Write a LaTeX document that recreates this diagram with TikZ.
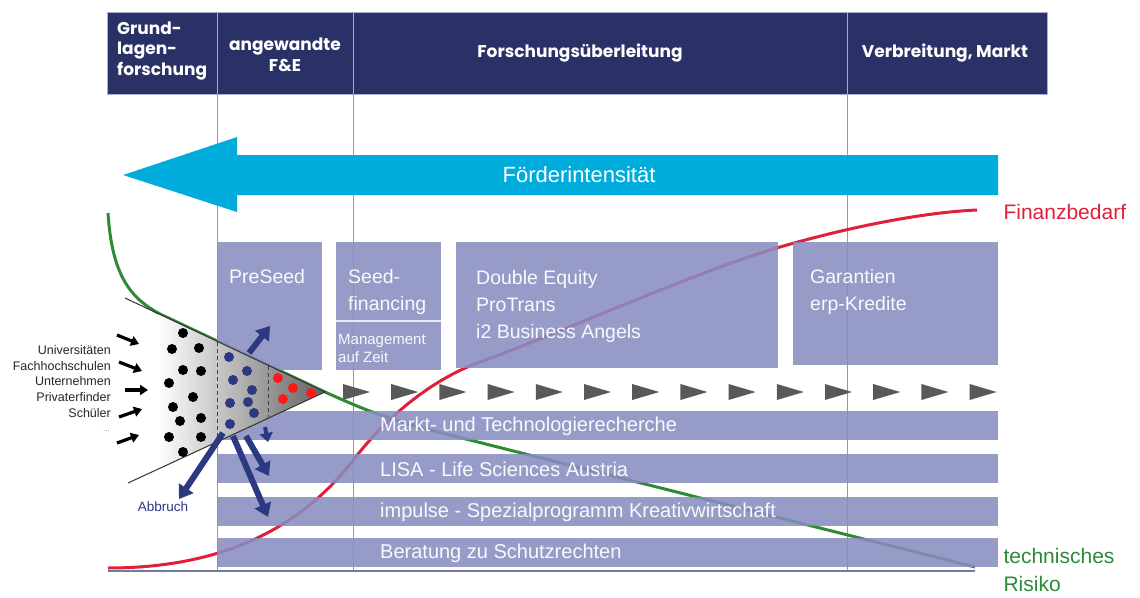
\documentclass[tikz,border=0pt]{standalone}
\usepackage{fontspec}
\setmainfont{Liberation Sans}
\newfontfamily\headfont{Poppins}
\usetikzlibrary{arrows.meta}

\definecolor{headnavy}{RGB}{42,49,102}
\definecolor{lav}{RGB}{136,141,192}
\definecolor{foerder}{RGB}{0,172,219}
\definecolor{finred}{RGB}{222,32,58}
\definecolor{riskgreen}{RGB}{46,138,52}
\definecolor{dropnavy}{RGB}{44,56,128}
\definecolor{colline}{RGB}{150,152,165}

\tikzset{
  headtxt/.style={text=white,inner sep=0pt,font=\headfont\bfseries\fontsize{17}{20.5}\selectfont},
  prog/.style={fill=lav,fill opacity=0.88},
  progtxt/.style={text=white!95!lav,anchor=west,align=left,inner sep=0pt,font=\fontsize{19.5}{27}\selectfont},
  srctxt/.style={anchor=east,inner sep=0pt,text=black!85,font=\fontsize{12.5}{14}\selectfont},
  feed/.style={line width=3.2pt,-{Triangle[width=10pt,length=8pt]}},
  dropout/.style={draw=dropnavy,line width=6pt,-{Triangle[width=17pt,length=13pt]}},
  chev/.style={fill=black!65},
}

\begin{document}
\begin{tikzpicture}[x=1pt,y=1pt,yscale=-1]
\useasboundingbox (0,0) rectangle (1140,597);

% phases
\fill[headnavy] (107,12) rectangle (1047,94);
\draw[lav!70,line width=0.8pt] (107,12) rectangle (1047,94);
\foreach \cx in {217,353,847}
  \draw[lav!75!white,line width=1pt] (\cx,12) -- (\cx,94);
\node[headtxt,anchor=west,align=left] (grund) at (117,51) {Grund-\\lagen-\\forschung};
\node[headtxt,align=center] (angew) at (285,55) {angewandte\\F\&E};
\node[headtxt] (ueber) at (580,53) {Forschungsüberleitung};
\node[headtxt] (markt) at (945,53) {Verbreitung, Markt};

\foreach \cx in {217,353,847}
  \draw[colline,line width=0.8pt] (\cx,94) -- (\cx,572);
\draw[lav!85!black,line width=1.5pt] (108,571) -- (975,571);

% Foerderintensitaet
\fill[foerder] (998,155) -- (237,155) -- (237,137) -- (123,175) -- (237,212) -- (237,195) -- (998,195) -- cycle;
\node[text=white,font=\fontsize{22}{26}\selectfont] (foerd) at (579,175) {Förderintensität};

% curves
\draw[finred,line width=3pt] (108,568) .. controls (220,568) and (300,530) .. (355,458)
  .. controls (385,419) and (430,380) .. (480,362)
  .. controls (560,333) and (700,270) .. (780,247)
  .. controls (860,224) and (930,212) .. (977,210);
\draw[riskgreen,line width=3pt] (108,213) .. controls (112,275) and (130,298) .. (160,314)
  -- (325,392) .. controls (360,408) and (390,420) .. (430,430) -- (975,567);
\node[anchor=west,text=finred,font=\fontsize{21}{25}\selectfont] (finanz) at (1000,212) {Finanzbedarf};
\node[anchor=west,align=left,text=riskgreen,font=\fontsize{21}{28}\selectfont] (risiko) at (1000,570) {technisches\\Risiko};

% programmes
\fill[prog] (217,242) rectangle (322,370);
\fill[prog] (336,242) rectangle (441,370);
\draw[white!80!lav,line width=1.5pt] (336,321) -- (441,321);
\fill[prog] (456,242) rectangle (778,368);
\fill[prog] (793,242) rectangle (998,365);
\node[progtxt] (preseed) at (229,277) {PreSeed};
\node[progtxt] (seed) at (348,292) {Seed-\\financing};
\node[progtxt,font=\fontsize{15}{18}\selectfont] (mgmt) at (338,348) {Management\\auf Zeit};
\node[progtxt] (equity) at (476,306) {Double Equity\\ProTrans\\i2 Business Angels};
\node[progtxt] (garant) at (810,292) {Garantien\\erp-Kredite};

\foreach \y/\txt [count=\k] in {411/Markt- und Technologierecherche,454/LISA - Life Sciences Austria,497/impulse - Spezialprogramm Kreativwirtschaft,538/Beratung zu Schutzrechten}{
  \fill[prog] (217,\y) rectangle (998,\y+29);
  \node[progtxt,font=\fontsize{20}{24}\selectfont] (bar\k) at (380,\y+15) {\txt};
}

% chevrons
\foreach \i in {0,...,13}
  \fill[chev] ({343+48.2*\i},384) -- ++(27,8) -- ++(-27,8) -- cycle;

% funnel
\begin{scope}
  \clip (128,300) -- (325,392) -- (128,483) -- cycle;
  \shade[left color=white,right color=black!62] (158,290) rectangle (326,490);
\end{scope}
\draw[black!80,line width=1pt] (125,298) -- (325,392) -- (128,483);
\draw[black!75,line width=1pt,dash pattern=on 4pt off 3pt] (217,342) -- (217,441);
\draw[black!75,line width=1pt,dash pattern=on 4pt off 3pt] (268,366) -- (268,417);
\foreach \p in {(183,333),(172,349),(199,348),(183,370),(201,371),(169,383),(193,397),(173,407),(201,418),(180,421),(169,437),(201,437),(183,452)}
  \fill[black] \p circle (5);
\foreach \p in {(229,357),(247,371),(233,380),(252,390),(230,403),(248,402),(254,413),(230,424)}
  \fill[dropnavy] \p circle (5);
\foreach \p in {(278,378),(293,388),(283,399),(311,393)}
  \fill[red!90!white] \p circle (5);

% sources
\foreach \y/\txt [count=\k] in {350/Universitäten,366/Fachhochschulen,381/Unternehmen,397/Privaterfinder,413/Schüler}
  \node[srctxt] (src\k) at (111,\y) {\txt};
\node[srctxt,text=black!50,font=\fontsize{8}{10}\selectfont] (srcmore) at (110,431) {...};
\foreach \ax/\ay/\dx/\dy in {117/335/22/9,119/362/23/9,125/390/23/0,119/417/23/-8,117/443/22/-8}
  \draw[feed] (\ax,\ay) -- ++(\dx,\dy);

% drop-outs
\coordinate (up0) at (249,353);   \coordinate (up1) at (270,326);
\coordinate (sm0) at (265,427);   \coordinate (sm1) at (268,442);
\coordinate (md0) at (246,436);   \coordinate (md1) at (269,476);
\coordinate (lg0) at (233,436);   \coordinate (lg1) at (268,517);
\coordinate (ab0) at (223,433);   \coordinate (ab1) at (179,499);
\draw[dropout] (up0) -- (up1);
\draw[dropout,line width=4pt,-{Triangle[width=13pt,length=9pt]}] (sm0) -- (sm1);
\draw[dropout] (md0) -- (md1);
\draw[dropout] (lg0) -- (lg1);
\draw[dropout] (ab0) -- (ab1);
\node[text=dropnavy,font=\fontsize{13.5}{16}\selectfont] (abbruch) at (163,507) {Abbruch};
\end{tikzpicture}
\end{document}
